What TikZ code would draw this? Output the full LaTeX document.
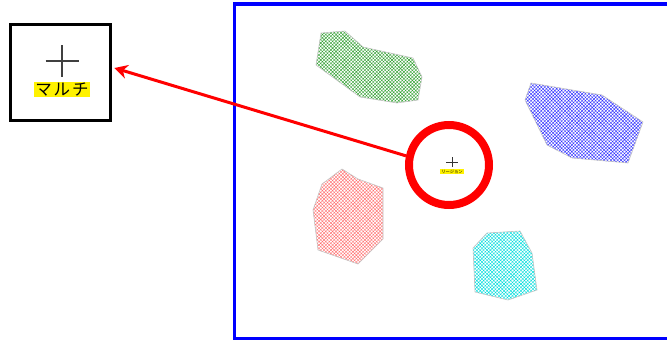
\documentclass[tikz,border=0pt]{standalone}
\usepackage{fontspec}
\newfontfamily\jpfont{Noto Sans CJK JP}
\usepackage{xcolor}
\definecolor{cframe}{HTML}{0000FF}
\definecolor{cgreen}{HTML}{2E9E2E}
\definecolor{cblue}{HTML}{2E2EFF}
\definecolor{cred}{HTML}{FF7070}
\definecolor{ccyan}{HTML}{00DCDC}
\definecolor{cedge}{HTML}{C4C4C4}
\usetikzlibrary{positioning,arrows.meta,patterns.meta}

\begin{document}
\begin{tikzpicture}[x=1pt, y=-1pt, >={Stealth[length=13pt,width=14pt]},
  area/.style={draw=cedge, line width=0.6pt, pattern={Hatch[angle=45,distance=2.4pt,line width=0.4pt]}, pattern color=#1},
  tag/.style={fill=yellow, inner xsep=1pt, inner ysep=0.5pt}]
  \useasboundingbox (0,0) rectangle (667,340);
  \draw[cframe, line width=3.5pt] (234.5,3.8) rectangle (675,339);
  % areas
  \draw[area=cgreen] (321,33) -- (345,31) -- (363,47) -- (413,58) -- (422,77) -- (418,100) -- (397,103) -- (360,97) -- (316,65) -- cycle;
  \draw[area=cblue] (531,83) -- (602,95) -- (643,122) -- (628,163) -- (572,158) -- (547,145) -- (525,100) -- cycle;
  \draw[area=cred] (342,169) -- (358,179) -- (383,188) -- (383,239) -- (358,264) -- (318,250) -- (313,210) -- (322,184) -- cycle;
  \draw[area=ccyan] (487,233) -- (520,231) -- (532,253) -- (537,290) -- (508,300) -- (475,292) -- (473,248) -- cycle;
  % region
  \node[draw=red, line width=8pt, circle, minimum size=80pt, inner sep=0pt] (region) at (449,165) {};
  \coordinate (rplus) at (452,162);
  \draw[line width=0.5pt, black!80] (rplus) +(-6,0) -- +(6,0) +(0,-5) -- +(0,5);
  \node[tag, font=\jpfont\fontsize{4.3}{4.3}\selectfont, below=7pt of rplus] (rtag) {リージョン};
  % multi
  \node[draw, line width=3pt, minimum width=99.5pt, minimum height=96pt] (multi) at (60.7,72.5) {};
  \coordinate (mplus) at (62,61);
  \draw[line width=1.3pt, black!75] (mplus) +(-16.5,0) -- +(16.5,0) +(0,-16) -- +(0,16);
  \node[tag, font=\jpfont\fontsize{16.5}{16.5}\selectfont, below=21pt of mplus] (mtag) {マ\kern2ptル\kern2ptチ};
  \draw[->, red, line width=3pt] (region.168) -- ([xshift=2.5pt,yshift=4.5pt]multi.east);
\end{tikzpicture}
\end{document}
